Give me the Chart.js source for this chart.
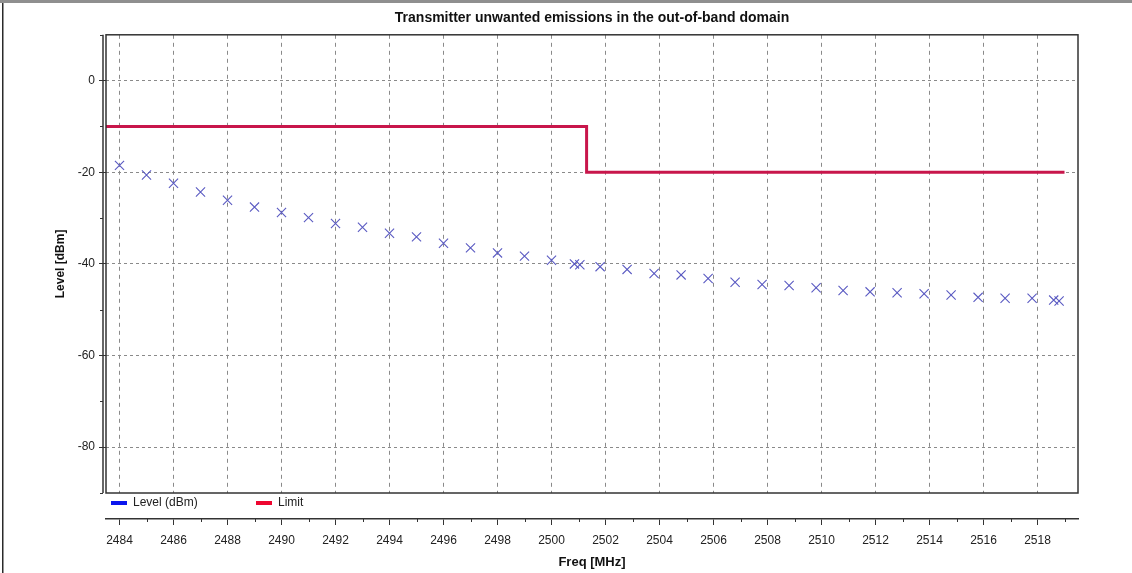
<!DOCTYPE html>
<html>
<head>
<meta charset="utf-8">
<title>Transmitter unwanted emissions</title>
<script src="https://cdn.jsdelivr.net/npm/chart.js@4.4.1/dist/chart.umd.min.js"></script>
<style>
    html, body { margin: 0; padding: 0; background: #fff; }
    #wrap { position: relative; width: 1132px; height: 573px; }
</style>
</head>
<body>
<div id="wrap"><canvas id="emissionChart"></canvas></div>
<script>
// Measured level points (MHz / dBm)
const levelFreqs = [2484, 2485, 2486, 2487, 2488, 2489, 2490, 2491, 2492, 2493,
    2494, 2495, 2496, 2497, 2498, 2499, 2500, 2500.85, 2501.05, 2501.8,
    2502.8, 2503.8, 2504.8, 2505.8, 2506.8, 2507.8, 2508.8, 2509.8, 2510.8, 2511.8,
    2512.8, 2513.8, 2514.8, 2515.8, 2516.8, 2517.8, 2518.6, 2518.8];
const levelValues = [-18.5, -20.6, -22.4, -24.3, -26.1, -27.6, -28.8, -29.9, -31.2, -32.0,
    -33.3, -34.1, -35.5, -36.5, -37.6, -38.3, -39.2, -40.0, -40.2, -40.6,
    -41.2, -42.1, -42.4, -43.2, -44.0, -44.5, -44.7, -45.2, -45.8, -46.1,
    -46.3, -46.5, -46.8, -47.3, -47.5, -47.5, -47.9, -48.1];

// Limit line (step)
const limitFreqs = [2483.5, 2501.3, 2501.3, 2519];
const limitValues = [-10, -10, -20, -20];

// Tick labels
const freqTicks = [2484, 2486, 2488, 2490, 2492, 2494, 2496, 2498, 2500,
    2502, 2504, 2506, 2508, 2510, 2512, 2514, 2516, 2518];
const levelTicks = [0, -20, -40, -60, -80];

const seriesLabels = ['Level (dBm)', 'Limit'];
const legendColors = ['#0b16ee', '#ee0630'];

const FONT_NARROW = "'Liberation Sans Narrow', 'Liberation Sans', Arial, sans-serif";
const FONT_BOLD = "'Liberation Sans', Arial, sans-serif";
const GRID = '#8a8a8a';
const AXIS = '#333333';
const X_MIN = 2483.5, X_MAX = 2519.5;

function toPoints(xs, ys) {
    return xs.map((x, i) => ({ x: x, y: ys[i] }));
}

// Frame, minor ticks and legend between plot and frequency axis
const framePlugin = {
    id: 'frame',
    beforeDraw(chart) {
        const ctx = chart.ctx;
        ctx.save();
        ctx.fillStyle = '#8f8f8f';
        ctx.fillRect(0, 0, chart.width, 3);
        ctx.fillStyle = '#2a2a2a';
        ctx.fillRect(2, 3, 1.5, chart.height - 3);
        ctx.restore();
    },
    afterDraw(chart) {
        const { ctx, chartArea: a, scales } = chart;
        ctx.save();
        ctx.strokeStyle = AXIS;
        ctx.lineWidth = 1.5;
        ctx.strokeRect(a.left, a.top, a.right - a.left, a.bottom - a.top);

        // outer y axis line
        ctx.beginPath();
        ctx.moveTo(a.left - 3, a.top);
        ctx.lineTo(a.left - 3, a.bottom);
        ctx.stroke();

        // minor ticks
        ctx.lineWidth = 1;
        ctx.beginPath();
        [10].concat(levelTicks.map(v => v - 10)).forEach(v => {
            const py = Math.round(scales.y.getPixelForValue(v)) + 0.5;
            ctx.moveTo(a.left - 3, py);
            ctx.lineTo(a.left - 6, py);
        });
        const x2 = scales.x2;
        freqTicks.map(v => v + 1).forEach(v => {
            const px = Math.round(x2.getPixelForValue(v)) + 0.5;
            ctx.moveTo(px, x2.top);
            ctx.lineTo(px, x2.top + 3);
        });
        ctx.stroke();

        // legend
        const offs = [5, 150];
        ctx.font = '12px ' + FONT_NARROW;
        ctx.textBaseline = 'middle';
        ctx.textAlign = 'left';
        chart.data.datasets.forEach((ds, i) => {
            const lx = a.left + offs[i];
            const ly = a.bottom + 10;
            ctx.fillStyle = legendColors[i];
            ctx.fillRect(lx, ly - 2, 16, 4);
            ctx.fillStyle = '#222';
            ctx.fillText(ds.label, lx + 22, ly);
        });
        ctx.restore();
    }
};

const ctx = document.getElementById('emissionChart').getContext('2d');

new Chart(ctx, {
    type: 'scatter',
    data: {
        datasets: [{
            label: seriesLabels[0],
            data: toPoints(levelFreqs, levelValues),
            showLine: false,
            pointStyle: 'crossRot',
            pointRadius: 6.5,
            pointBorderWidth: 1.1,
            borderColor: '#5a5ac2',
            backgroundColor: '#5a5ac2'
        }, {
            label: seriesLabels[1],
            data: toPoints(limitFreqs, limitValues),
            showLine: true,
            fill: false,
            pointRadius: 0,
            borderWidth: 3,
            borderColor: '#c8164b',
            backgroundColor: '#c8164b',
            tension: 0
        }]
    },
    options: {
        responsive: true,
        maintainAspectRatio: false,
        animation: false,
        layout: { padding: { left: 40, right: 54, top: 8, bottom: 0 } },
        plugins: {
            legend: { display: false },
            tooltip: { enabled: false },
            title: {
                display: true,
                fullSize: false,
                text: 'Transmitter unwanted emissions in the out-of-band domain',
                color: '#111',
                font: { family: FONT_BOLD, size: 14, weight: 'bold' },
                padding: { top: 2, bottom: 8 }
            }
        },
        scales: {
            x: {
                type: 'linear',
                position: 'bottom',
                weight: 0,
                min: X_MIN,
                max: X_MAX,
                afterBuildTicks: s => { s.ticks = freqTicks.map(v => ({ value: v })); },
                ticks: { display: false },
                grid: { color: GRID, lineWidth: 1, drawTicks: false },
                border: { display: false, dash: [4, 4] },
                afterFit: s => { s.height = 26; }
            },
            x2: {
                type: 'linear',
                position: 'bottom',
                weight: 1,
                min: X_MIN,
                max: X_MAX,
                afterBuildTicks: s => { s.ticks = freqTicks.map(v => ({ value: v })); },
                ticks: {
                    callback: v => String(v),
                    autoSkip: false,
                    maxRotation: 0,
                    padding: 8,
                    color: '#222',
                    font: { family: FONT_NARROW, size: 12 }
                },
                grid: { drawOnChartArea: false, tickLength: 6, tickColor: AXIS },
                border: { display: true, color: AXIS, width: 1.5 },
                title: {
                    display: true,
                    text: 'Freq [MHz]',
                    color: '#111',
                    font: { family: FONT_NARROW, size: 13, weight: 'bold' },
                    padding: { top: 0, bottom: 3 }
                },
                afterFit: s => { s.height = 54; }
            },
            y: {
                type: 'linear',
                min: -90,
                max: 10,
                afterBuildTicks: s => { s.ticks = levelTicks.map(v => ({ value: v })); },
                ticks: {
                    callback: v => String(v),
                    padding: 4,
                    color: '#222',
                    font: { family: FONT_NARROW, size: 12 }
                },
                grid: { color: GRID, lineWidth: 1, tickColor: AXIS, tickLength: 7 },
                border: { display: false, dash: [3, 3] },
                title: {
                    display: true,
                    text: 'Level [dBm]',
                    color: '#111',
                    font: { family: FONT_BOLD, size: 12, weight: 'bold' },
                    padding: { top: 13, bottom: 0 }
                },
                afterFit: s => { s.width = 66; }
            }
        }
    },
    plugins: [framePlugin]
});
</script>
</body>
</html>
